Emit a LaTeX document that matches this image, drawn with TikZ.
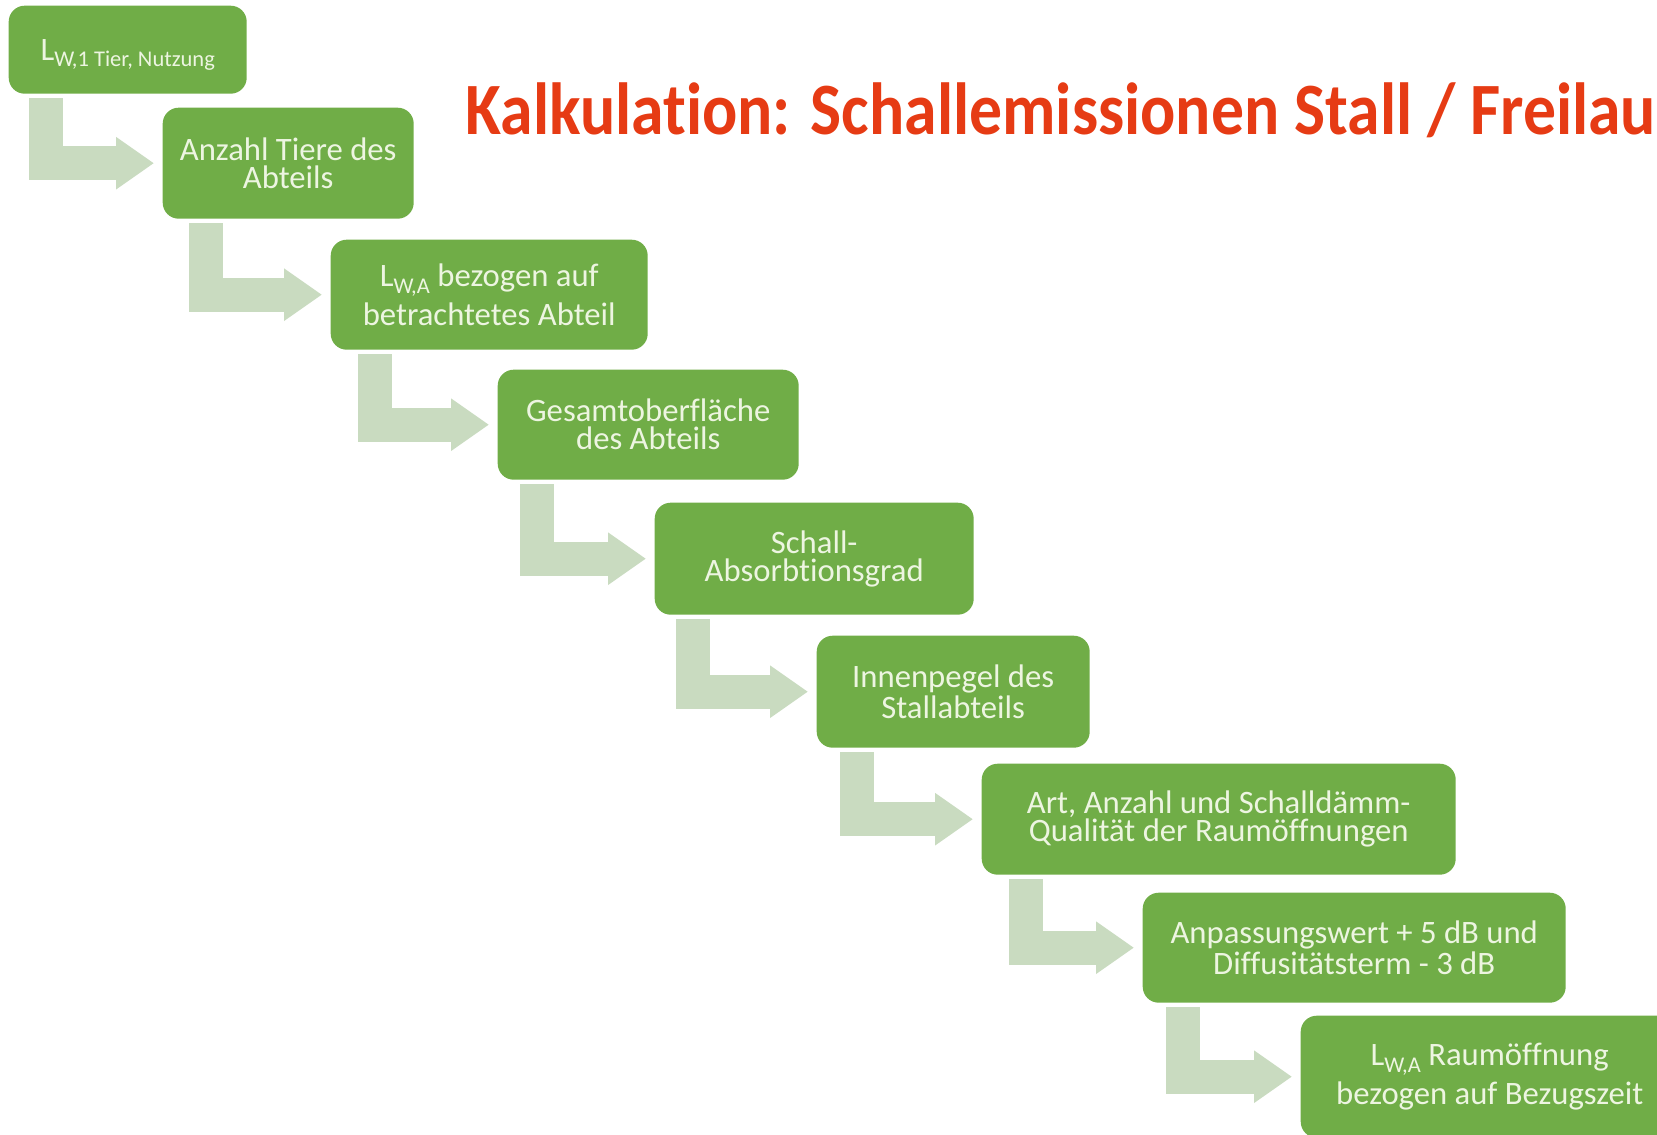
\documentclass[tikz,border=0pt]{standalone}
\usepackage{fontspec}
\setmainfont[Ligatures={TeX,NoCommon}]{Carlito}
\usepackage{tikz}
\usetikzlibrary{arrows.meta,positioning,calc}

\definecolor{boxgreen}{HTML}{70AD47}
\definecolor{arrowgreen}{HTML}{C9DBC0}
\definecolor{boxtext}{HTML}{EDF5E1}
\definecolor{titlered}{HTML}{E63B14}

\newcommand{\lsub}[1]{\raisebox{-0.2em}[0pt][0pt]{\fontsize{6.4}{6}\selectfont #1}}

\begin{document}
\begin{tikzpicture}[
    box/.style={rectangle, fill=boxgreen, rounded corners=0.16cm, anchor=north west, align=center, text=boxtext, font=\fontsize{9.3}{8}\selectfont, inner sep=0pt},
    flow/.style={draw=arrowgreen, line width=0.34cm, line join=miter, -{Triangle[width=0.5cm,length=0.38cm]}, shorten >=0.08cm}
]
    \useasboundingbox (0,0) rectangle (16.57,-11.35);
    \clip (0,0) rectangle (16.57,-11.35);

    \node[anchor=base west, text=titlered, font=\bfseries\fontsize{21}{24}\selectfont, inner sep=0pt] (title) at (4.65,-1.35) {\scalebox{0.89}[1]{Kalkulation: Schallemissionen Stall / Freilau}};

    \node[box, minimum width=2.38cm, minimum height=0.88cm] (lw1) at (0.08,-0.05) {L\lsub{W,1 Tier, Nutzung}};
    \node[box, minimum width=2.51cm, minimum height=1.11cm] (tiere) at (1.62,-1.07) {Anzahl Tiere des\\Abteils};
    \node[box, minimum width=3.17cm, minimum height=1.10cm] (lwa) at (3.30,-2.39) {L\lsub{W,A} bezogen auf\\[2pt]betrachtetes Abteil};
    \node[box, minimum width=3.01cm, minimum height=1.10cm] (flaeche) at (4.97,-3.69) {Gesamtoberfläche\\des Abteils};
    \node[box, minimum width=3.19cm, minimum height=1.12cm] (absorb) at (6.54,-5.02) {Schall-\\Absorbtionsgrad};
    \node[box, minimum width=2.73cm, minimum height=1.12cm] (innen) at (8.16,-6.35) {Innenpegel des\\Stallabteils};
    \node[box, minimum width=4.74cm, minimum height=1.11cm] (oeffn) at (9.81,-7.63) {Art, Anzahl und Schalldämm-\\Qualität der Raumöffnungen};
    \node[box, minimum width=4.23cm, minimum height=1.10cm] (anpass) at (11.42,-8.92) {Anpassungswert + 5 dB und\\Diffusitätsterm - 3 dB};
    \node[box, minimum width=3.78cm, minimum height=1.22cm] (lwraum) at (13.00,-10.15) {L\lsub{W,A} Raumöffnung\\[2pt]bezogen auf Bezugszeit};

    \draw[flow] ($(lw1.south west)+(0.38,-0.04)$) |- (tiere.west);
    \draw[flow] ($(tiere.south west)+(0.44,-0.04)$) |- (lwa.west);
    \draw[flow] ($(lwa.south west)+(0.45,-0.04)$) |- (flaeche.west);
    \draw[flow] ($(flaeche.south west)+(0.40,-0.04)$) |- (absorb.west);
    \draw[flow] ($(absorb.south west)+(0.39,-0.04)$) |- (innen.west);
    \draw[flow] ($(innen.south west)+(0.41,-0.04)$) |- (oeffn.west);
    \draw[flow] ($(oeffn.south west)+(0.45,-0.04)$) |- (anpass.west);
    \draw[flow] ($(anpass.south west)+(0.41,-0.04)$) |- (lwraum.west);
\end{tikzpicture}
\end{document}
